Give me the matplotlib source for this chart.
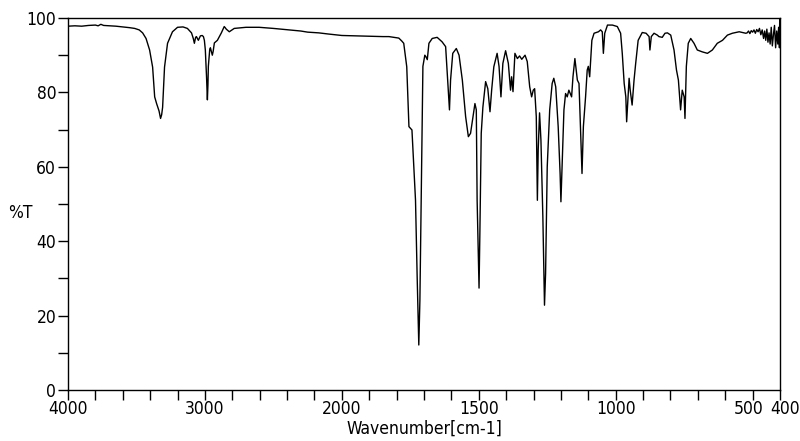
import numpy as np
import matplotlib
matplotlib.use("Agg")
from matplotlib import pyplot as plt
from matplotlib import font_manager
from matplotlib.transforms import ScaledTranslation

# IR spectrum (wavenumber in cm-1, transmittance in %)
wavenumber = [
    4000, 3950, 3900, 3850, 3800, 3780, 3760, 3740, 3700, 3650, 3600, 3550, 3513,
    3480, 3455, 3430, 3404, 3382, 3367, 3353, 3335, 3324, 3316, 3309, 3295, 3273,
    3237, 3200, 3160, 3128, 3098, 3085, 3077, 3068, 3062, 3048, 3033, 3020, 3011,
    3004, 2997, 2988, 2982, 2978, 2975, 2965, 2960, 2946, 2940, 2931, 2909, 2880,
    2859, 2852, 2844, 2822, 2786, 2700, 2604, 2500, 2386, 2300, 2250, 2168, 2100,
    2022, 2000,
    1950, 1900, 1850, 1828, 1810, 1792, 1781, 1774, 1763, 1755, 1744, 1737, 1731,
    1725, 1719, 1715, 1709, 1704, 1697, 1693, 1688, 1682, 1670, 1652, 1634, 1621,
    1612, 1607, 1603, 1595, 1582, 1572, 1560, 1548, 1538, 1530, 1521, 1514, 1509,
    1506, 1499, 1496, 1491, 1485, 1475, 1467, 1459, 1453, 1445, 1433, 1426, 1419,
    1412, 1402, 1392, 1384, 1380, 1375, 1368, 1359, 1351, 1343, 1331, 1323, 1314,
    1307, 1301, 1296, 1290, 1286, 1283, 1278, 1273, 1266, 1260, 1256, 1250, 1241,
    1232, 1226, 1219, 1210, 1203, 1200, 1195, 1189, 1183, 1177, 1171, 1161, 1156,
    1149, 1140, 1134, 1128, 1123, 1118, 1110, 1104, 1100, 1095, 1087, 1079, 1063,
    1055, 1049, 1045, 1040, 1030, 1012, 994, 982, 976, 969, 963, 960, 955, 951,
    947, 940, 933, 927, 918, 903, 889, 878, 875, 870, 860, 848, 842, 830, 820,
    811, 799, 787, 778, 771, 763, 757, 750, 747, 742, 735, 726, 714, 702, 684,
    665, 647, 629, 610, 592, 574, 549, 525,
    520, 515, 510, 505, 500, 495, 490, 485, 480, 475, 470, 465, 460, 456, 452,
    448, 444, 440, 436, 432, 428, 424, 420, 416, 412, 408, 405, 402, 401, 400,
]
transmittance = [
    97.8, 97.9, 97.8, 98.0, 98.1, 97.9, 98.3, 98.0, 97.9, 97.8, 97.6, 97.4, 97.2,
    96.8, 96.0, 94.5, 91.4, 86.8, 78.8, 77.0, 75.0, 73.0, 74.0, 76.0, 86.8, 93.2,
    96.3, 97.5, 97.6, 97.2, 96.0, 94.5, 93.2, 94.8, 95.0, 94.0, 95.2, 95.3, 95.0,
    94.0, 91.4, 84.0, 78.0, 82.0, 87.0, 91.5, 92.0, 90.0, 91.0, 93.3, 94.0, 96.0,
    97.7, 97.4, 97.0, 96.3, 97.2, 97.5, 97.5, 97.2, 96.8, 96.5, 96.2, 96.0, 95.7,
    95.4, 95.3,
    95.2, 95.1, 95.0, 95.0, 94.8, 94.6, 93.8, 93.2, 86.9, 70.8, 69.9, 60.0, 51.0,
    30.5, 12.1, 24.0, 58.0, 87.0, 90.0, 89.6, 88.8, 93.2, 94.5, 94.8, 93.6, 92.3,
    81.5, 75.3, 83.3, 90.5, 91.8, 90.0, 83.3, 73.5, 68.1, 69.0, 73.5, 77.0, 75.3,
    51.0, 27.4, 42.0, 69.0, 76.0, 82.9, 81.0, 74.8, 80.6, 86.9, 90.5, 87.0, 78.8,
    87.8, 91.2, 87.8, 80.6, 84.2, 80.2, 90.5, 89.1, 89.8, 88.9, 90.0, 88.3, 81.5,
    78.8, 80.6, 81.0, 73.5, 51.0, 64.5, 74.5, 67.2, 46.6, 22.8, 31.4, 60.0, 75.3,
    82.4, 83.8, 81.5, 70.8, 58.2, 50.6, 61.8, 75.3, 79.7, 78.8, 80.6, 78.8, 84.2,
    89.1, 83.3, 82.4, 69.0, 58.2, 70.8, 78.8, 86.0, 87.0, 84.2, 94.0, 95.9, 96.3,
    96.8, 96.3, 90.5, 95.9, 98.1, 98.1, 97.7, 95.9, 90.5, 82.4, 78.8, 72.1, 78.8, 83.8,
    80.6, 76.6, 83.3, 87.8, 94.0, 96.1, 95.9, 95.0, 91.4, 95.0, 95.9, 95.4, 95.0, 94.8, 95.9,
    96.0, 95.4, 91.4, 86.0, 83.3, 75.3, 80.6, 78.8, 73.0, 87.0, 93.2, 94.5, 93.2, 91.4, 90.9,
    90.5, 91.4, 93.2, 94.0, 95.4, 95.9, 96.3, 95.9,
    96.0, 96.5, 95.8, 96.6, 96.2, 96.8, 95.9, 96.9, 96.3, 97.2, 95.5, 96.8, 94.5, 96.5, 94.0,
    97.0, 93.5, 96.0, 93.0, 97.5, 92.5, 95.5, 98.0, 92.0, 96.5, 93.0, 97.5, 92.0, 100.0, 92.5,
]

major_ticks = [4000, 3000, 2000, 1500, 1000, 500, 400]
major_labels = ['4000', '3000', '2000', '1500', '1000', '500', '400']

# the original uses a narrow bitmap font; use a narrow face if one is installed
installed = {(f.name, f.stretch) for f in font_manager.fontManager.ttflist}
names = {n for n, _ in installed}
font_kw = {}
if 'Liberation Sans Narrow' in names:
    font_kw = dict(family='Liberation Sans Narrow')
    fsize = 12.5
elif ('DejaVu Sans', 'condensed') in installed:
    font_kw = dict(family='DejaVu Sans', stretch='condensed')
    fsize = 12.5
else:
    font_kw = dict(family='DejaVu Sans')
    fsize = 10.5
plt.rcParams['font.family'] = font_kw['family']
if 'stretch' in font_kw:
    plt.rcParams['font.stretch'] = font_kw['stretch']


# the instrument plots below 2000 cm-1 at twice the scale
def forward(x):
    x = np.asarray(x, dtype=float)
    return np.where(x >= 2000, x, 2 * x - 2000)


def inverse(u):
    u = np.asarray(u, dtype=float)
    return np.where(u >= 2000, u, (u + 2000) / 2)


fig = plt.figure(figsize=(8.0, 4.41), dpi=100)
ax = fig.add_axes([68 / 800, 51 / 441, 712 / 800, 372 / 441])

ax.plot(wavenumber, transmittance, color='black', lw=1.0)

ax.set_xscale('function', functions=(forward, inverse))
ax.set_xlim(4000, 400)
ax.set_ylim(0, 100)

minor_x = list(range(3800, 2000, -200)) + list(range(1900, 400, -100))
ax.set_xticks(major_ticks)
ax.set_xticklabels(major_labels)
ax.set_xticks(minor_x, minor=True)
ax.set_yticks([0, 20, 40, 60, 80, 100])
ax.set_yticks([10, 30, 50, 70, 90], minor=True)

ax.tick_params(which='both', direction='out', length=7, width=1, color='black',
               labelsize=fsize)
ax.tick_params(axis='x', pad=0.5)
ax.tick_params(axis='y', pad=1.5)
for s in ax.spines.values():
    s.set_linewidth(1.0)
    s.set_color('black')

# "500" and "400" sit close together; nudge them apart like the original
xlabels = ax.get_xticklabels()
xlabels[5].set_transform(xlabels[5].get_transform() + ScaledTranslation(-4 / 100, 0, fig.dpi_scale_trans))
xlabels[6].set_transform(xlabels[6].get_transform() + ScaledTranslation(5 / 100, 0, fig.dpi_scale_trans))

fig.text(8 / 800, 1 - 213 / 441, '%T', fontsize=fsize, ha='left', va='center')
fig.text(424 / 800, 1 - 429 / 441, 'Wavenumber[cm-1]', fontsize=fsize,
         ha='center', va='center')

fig.savefig('out.png', dpi=100)
